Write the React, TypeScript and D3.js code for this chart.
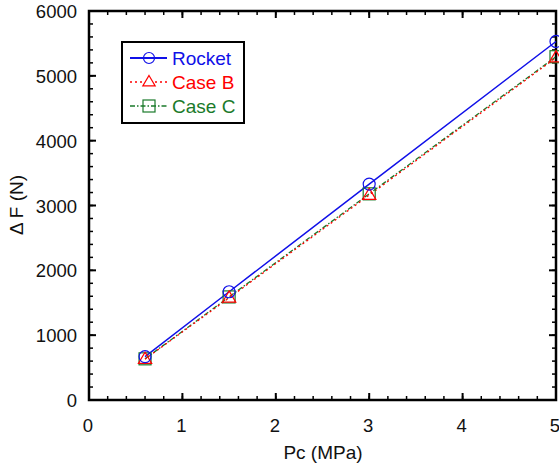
import React from "react";
import * as d3 from "d3";

const pc = [0.6, 1.5, 3, 5];
const rocket = [670, 1670, 3330, 5530];
const caseB = [630, 1575, 3160, 5280];
const caseC = [635, 1590, 3180, 5295];
const xTicks = [0, 1, 2, 3, 4, 5];
const yTicks = [0, 1000, 2000, 3000, 4000, 5000, 6000];

const W = 559, H = 472;
const L = 89, R = 556, T = 11, B = 400;

export default function App() {
  const x = d3.scaleLinear().domain([0, 5]).range([L, R]);
  const y = d3.scaleLinear().domain([0, 6000]).range([B, T]);
  const font = "Liberation Sans, Arial, sans-serif";
  const line = (vals: number[]) =>
    d3.line<number>().x((_, i) => x(pc[i])).y((v) => y(v))(vals) || "";
  const xMinor = d3.range(0, 5.0001, 0.2);
  const yMinor = d3.range(0, 6000.1, 200);
  const blue = "#1010e8";
  const red = "#ff0000";
  const green = "#1a7a2a";
  const tri = (cx: number, cy: number, s = 7) =>
    `M${cx},${cy - s}L${cx + s * 0.95},${cy + s * 0.6}L${cx - s * 0.95},${cy + s * 0.6}Z`;
  return (
    <svg width={W} height={H} style={{ position: "absolute", left: 0, top: 0 }}>
      <rect x={0} y={0} width={W} height={H} fill="white" />
      {xMinor.map((t, i) => (
        <g key={"xm" + i}>
          <line x1={x(t)} x2={x(t)} y1={B} y2={B - 4} stroke="black" strokeWidth={1.5} />
          <line x1={x(t)} x2={x(t)} y1={T} y2={T + 4} stroke="black" strokeWidth={1.5} />
        </g>
      ))}
      {yMinor.map((t, i) => (
        <g key={"ym" + i}>
          <line x1={L} x2={L + 4} y1={y(t)} y2={y(t)} stroke="black" strokeWidth={1.5} />
          <line x1={R} x2={R - 4} y1={y(t)} y2={y(t)} stroke="black" strokeWidth={1.5} />
        </g>
      ))}
      {xTicks.map((t) => (
        <g key={"x" + t}>
          <line x1={x(t)} x2={x(t)} y1={B} y2={B - 7} stroke="black" strokeWidth={2} />
          <line x1={x(t)} x2={x(t)} y1={T} y2={T + 7} stroke="black" strokeWidth={2} />
          <text x={x(t) - 1} y={B + 32} fontSize={18.5} fontFamily={font} textAnchor="middle" fill="#111">
            {t}
          </text>
        </g>
      ))}
      {yTicks.map((t) => (
        <g key={"y" + t}>
          <line x1={L} x2={L + 7} y1={y(t)} y2={y(t)} stroke="black" strokeWidth={2} />
          <line x1={R} x2={R - 7} y1={y(t)} y2={y(t)} stroke="black" strokeWidth={2} />
          <text x={L - 12} y={y(t) + 7} fontSize={18.5} fontFamily={font} textAnchor="end" fill="#111">
            {t}
          </text>
        </g>
      ))}
      <rect x={L} y={T} width={R - L} height={B - T} fill="none" stroke="black" strokeWidth={2.5} />
      <path d={line(caseC)} fill="none" stroke={green} strokeWidth={1.3} strokeDasharray="5,2,1.5,2" />
      <path d={line(caseB)} fill="none" stroke={red} strokeWidth={1.3} strokeDasharray="2,3" />
      <path d={line(rocket)} fill="none" stroke={blue} strokeWidth={1.5} />
      {pc.map((p, i) => (
        <g key={"m" + i}>
          <rect x={x(p) - 6} y={y(caseC[i]) - 6} width={12} height={12} fill="none" stroke={green} strokeWidth={1.2} />
          <path d={tri(x(p), y(caseB[i]))} fill="none" stroke={red} strokeWidth={1.2} />
          <circle cx={x(p)} cy={y(rocket[i])} r={6} fill="none" stroke={blue} strokeWidth={1.2} />
        </g>
      ))}
      <rect x={122} y={42} width={122} height={81} fill="white" stroke="black" strokeWidth={2} />
      {[
        { label: "Rocket", color: blue, dash: "", mark: "c" },
        { label: "Case B", color: red, dash: "2,3", mark: "t" },
        { label: "Case C", color: green, dash: "5,2,1.5,2", mark: "s" },
      ].map((e, i) => {
        const cy = 58 + i * 24;
        const cx = 149;
        return (
          <g key={e.label}>
            <line x1={130} x2={167} y1={cy} y2={cy} stroke={e.color} strokeWidth={e.mark === "c" ? 2 : 1.5} strokeDasharray={e.dash} />
            {e.mark === "c" && <circle cx={cx} cy={cy} r={5.5} fill="none" stroke={e.color} strokeWidth={1.2} />}
            {e.mark === "t" && <path d={tri(cx, cy, 6.5)} fill="white" stroke={e.color} strokeWidth={1.2} />}
            {e.mark === "s" && <rect x={cx - 6} y={cy - 6} width={12} height={12} fill="none" stroke={e.color} strokeWidth={1.2} />}
            <text x={172} y={cy + 7} fontSize={19} fontFamily={font} fill={e.color}>
              {e.label}
            </text>
          </g>
        );
      })}
      <text x={323} y={459} fontSize={19} fontFamily={font} textAnchor="middle" fill="#111">
        Pc (MPa)
      </text>
      <text transform={`translate(23,205) rotate(-90)`} fontSize={19} fontFamily={font} textAnchor="middle" fill="#111">
        Δ F (N)
      </text>
    </svg>
  );
}
